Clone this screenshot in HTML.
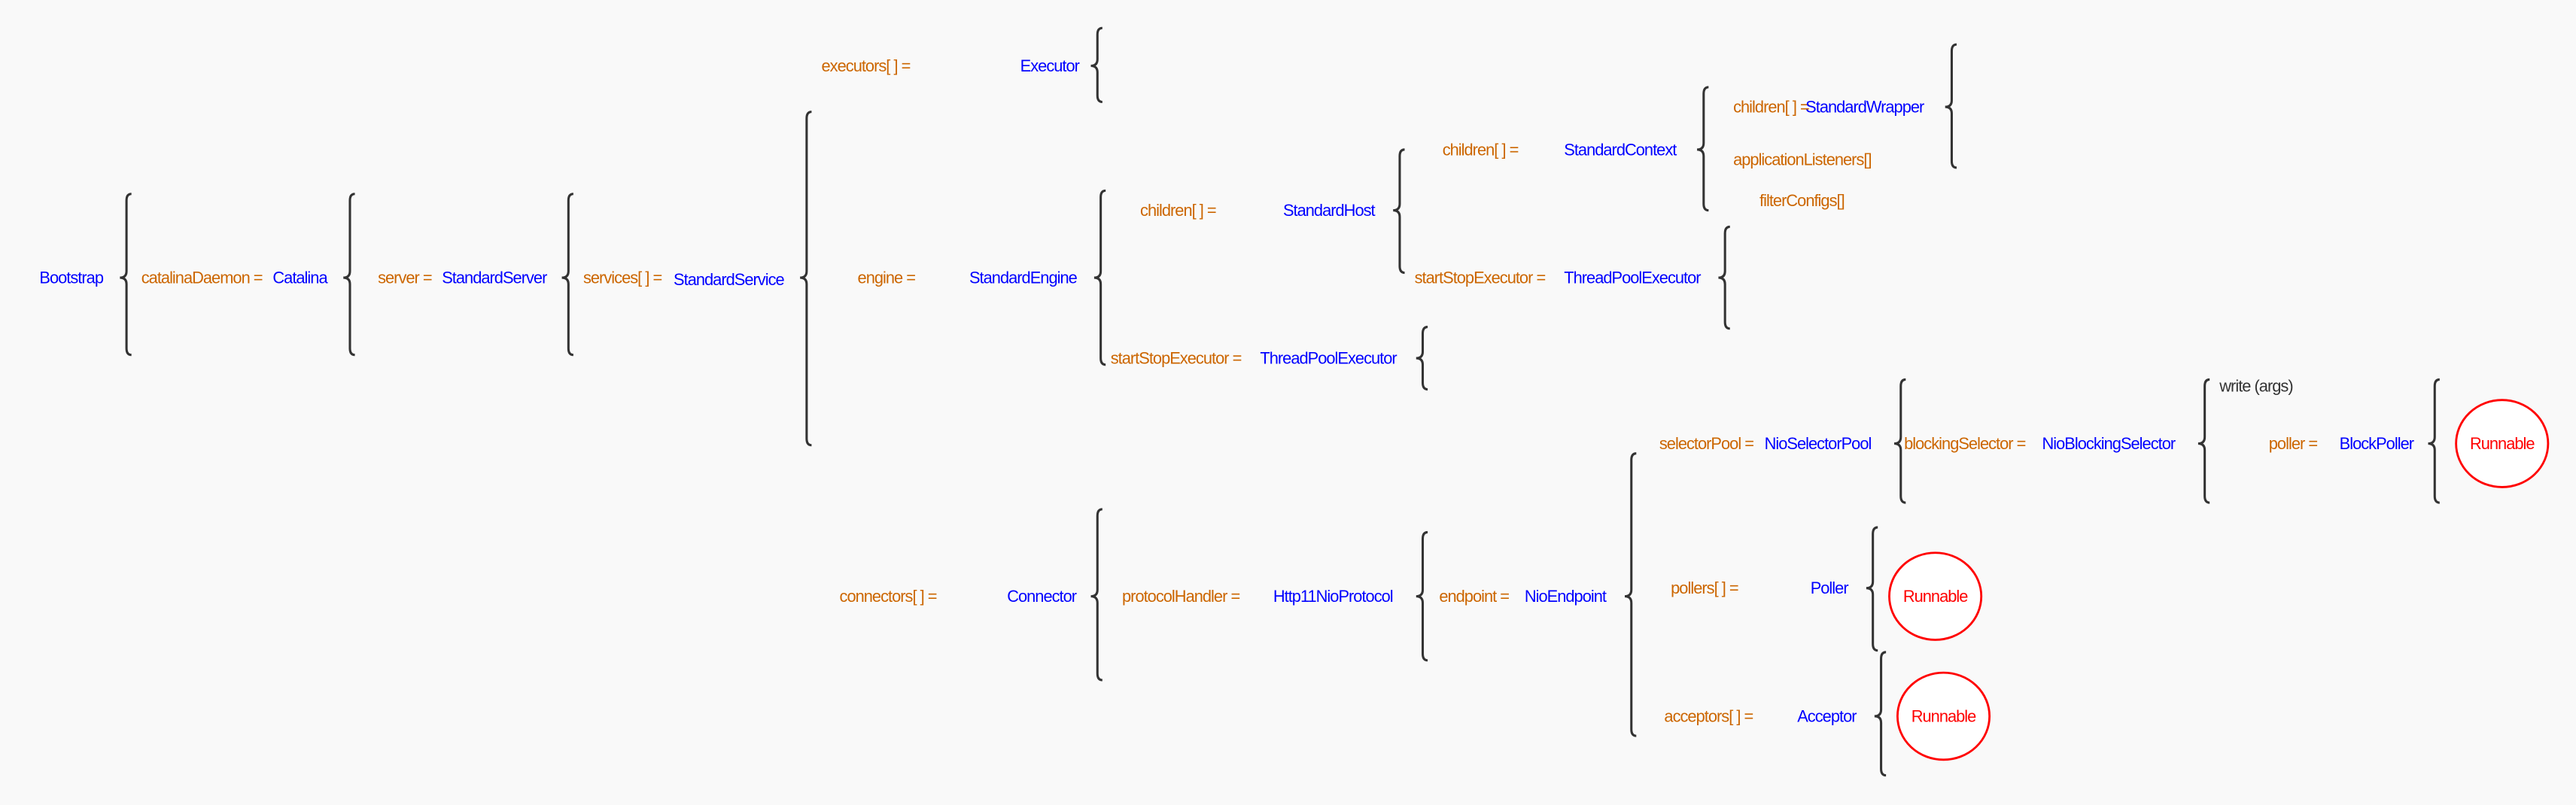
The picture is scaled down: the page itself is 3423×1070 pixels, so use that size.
<!DOCTYPE html>
<html><head><meta charset="utf-8"><style>
html,body{margin:0;padding:0;background:#f9f9f9;}
svg{display:block}
text{font-family:"Liberation Sans Narrow","Liberation Sans",sans-serif;font-size:10px;letter-spacing:-0.45px;dominant-baseline:central}
.o{fill:#cc6600}.b{fill:#0000ff}.k{fill:#333}.r{fill:#ff0000}
path{fill:none;stroke:#333;stroke-width:1.4}
ellipse{fill:#fff;stroke:#ff0000;stroke-width:1.3}
</style></head><body>
<svg width="3423" height="1070" viewBox="0 0 1568 490" xmlns="http://www.w3.org/2000/svg">
<rect width="1568" height="490" fill="#f9f9f9"/>
<g>
<path d="M80,118 Q77,118 77,122 L77,165 Q77,169 73,169 Q77,169 77,173 L77,212 Q77,216 80,216"/>
<path d="M216,118 Q213,118 213,122 L213,165 Q213,169 209,169 Q213,169 213,173 L213,212 Q213,216 216,216"/>
<path d="M349,118 Q346,118 346,122 L346,165 Q346,169 342,169 Q346,169 346,173 L346,212 Q346,216 349,216"/>
<path d="M494,68 Q491,68 491,72 L491,165 Q491,169 487,169 Q491,169 491,173 L491,267 Q491,271 494,271"/>
<path d="M671,17 Q668,17 668,21 L668,36 Q668,40 664,40 Q668,40 668,44 L668,58 Q668,62 671,62"/>
<path d="M673,116 Q670,116 670,120 L670,165 Q670,169 666,169 Q670,169 670,173 L670,218 Q670,222 673,222"/>
<path d="M855,91 Q852,91 852,95 L852,124 Q852,128 848,128 Q852,128 852,132 L852,162 Q852,166 855,166"/>
<path d="M1040,53 Q1037,53 1037,57 L1037,87 Q1037,91 1033,91 Q1037,91 1037,95 L1037,124 Q1037,128 1040,128"/>
<path d="M1191,27 Q1188,27 1188,31 L1188,61 Q1188,65 1184,65 Q1188,65 1188,69 L1188,98 Q1188,102 1191,102"/>
<path d="M1053,138 Q1050,138 1050,142 L1050,165 Q1050,169 1046,169 Q1050,169 1050,173 L1050,196 Q1050,200 1053,200"/>
<path d="M869,199 Q866,199 866,203 L866,214 Q866,218 862,218 Q866,218 866,222 L866,233 Q866,237 869,237"/>
<path d="M671,310 Q668,310 668,314 L668,359 Q668,363 664,363 Q668,363 668,367 L668,410 Q668,414 671,414"/>
<path d="M869,324 Q866,324 866,328 L866,359 Q866,363 862,363 Q866,363 866,367 L866,398 Q866,402 869,402"/>
<path d="M996,276 Q993,276 993,280 L993,359 Q993,363 989,363 Q993,363 993,367 L993,444 Q993,448 996,448"/>
<path d="M1160,231 Q1157,231 1157,235 L1157,266 Q1157,270 1153,270 Q1157,270 1157,274 L1157,302 Q1157,306 1160,306"/>
<path d="M1345,231 Q1342,231 1342,235 L1342,266 Q1342,270 1338,270 Q1342,270 1342,274 L1342,302 Q1342,306 1345,306"/>
<path d="M1485,231 Q1482,231 1482,235 L1482,266 Q1482,270 1478,270 Q1482,270 1482,274 L1482,302 Q1482,306 1485,306"/>
<path d="M1143,321 Q1140,321 1140,325 L1140,354 Q1140,358 1136,358 Q1140,358 1140,362 L1140,392 Q1140,396 1143,396"/>
<path d="M1148,397 Q1145,397 1145,401 L1145,432 Q1145,436 1141,436 Q1145,436 1145,440 L1145,468 Q1145,472 1148,472"/>
</g>
<ellipse cx="1523" cy="270" rx="28" ry="26.5"/>
<ellipse cx="1178" cy="363" rx="28" ry="26.5"/>
<ellipse cx="1183" cy="436" rx="28" ry="26.5"/>

<text x="24" y="169" class="b">Bootstrap</text>
<text x="86" y="169" class="o">catalinaDaemon =</text>
<text x="166" y="169" class="b">Catalina</text>
<text x="230" y="169" class="o">server =</text>
<text x="269" y="169" class="b">StandardServer</text>
<text x="355" y="169" class="o">services[ ] =</text>
<text x="410" y="170" class="b">StandardService</text>

<text x="500" y="40" class="o">executors[ ] =</text>
<text x="621" y="40" class="b">Executor</text>
<text x="522" y="169" class="o">engine =</text>
<text x="590" y="169" class="b">StandardEngine</text>
<text x="694" y="128" class="o">children[ ] =</text>
<text x="781" y="128" class="b">StandardHost</text>
<text x="878" y="91" class="o">children[ ] =</text>
<text x="952" y="91" class="b">StandardContext</text>
<text x="1055" y="65" class="o">children[ ] =</text>
<text x="1099" y="65" class="b">StandardWrapper</text>
<text x="1055" y="97" class="o">applicationListeners[]</text>
<text x="1071" y="122" class="o">filterConfigs[]</text>
<text x="861" y="169" class="o">startStopExecutor =</text>
<text x="952" y="169" class="b">ThreadPoolExecutor</text>
<text x="676" y="218" class="o">startStopExecutor =</text>
<text x="767" y="218" class="b">ThreadPoolExecutor</text>

<text x="511" y="363" class="o">connectors[ ] =</text>
<text x="613" y="363" class="b">Connector</text>
<text x="683" y="363" class="o">protocolHandler =</text>
<text x="775" y="363" class="b">Http11NioProtocol</text>
<text x="876" y="363" class="o">endpoint =</text>
<text x="928" y="363" class="b">NioEndpoint</text>
<text x="1010" y="270" class="o">selectorPool =</text>
<text x="1074" y="270" class="b">NioSelectorPool</text>
<text x="1159" y="270" class="o">blockingSelector =</text>
<text x="1243" y="270" class="b">NioBlockingSelector</text>
<text x="1351" y="235" class="k">write (args)</text>
<text x="1381" y="270" class="o">poller =</text>
<text x="1424" y="270" class="b">BlockPoller</text>
<text x="1523" y="270" class="r" text-anchor="middle">Runnable</text>
<text x="1017" y="358" class="o">pollers[ ] =</text>
<text x="1102" y="358" class="b">Poller</text>
<text x="1178" y="363" class="r" text-anchor="middle">Runnable</text>
<text x="1013" y="436" class="o">acceptors[ ] =</text>
<text x="1094" y="436" class="b">Acceptor</text>
<text x="1183" y="436" class="r" text-anchor="middle">Runnable</text>
</svg>
</body></html>
